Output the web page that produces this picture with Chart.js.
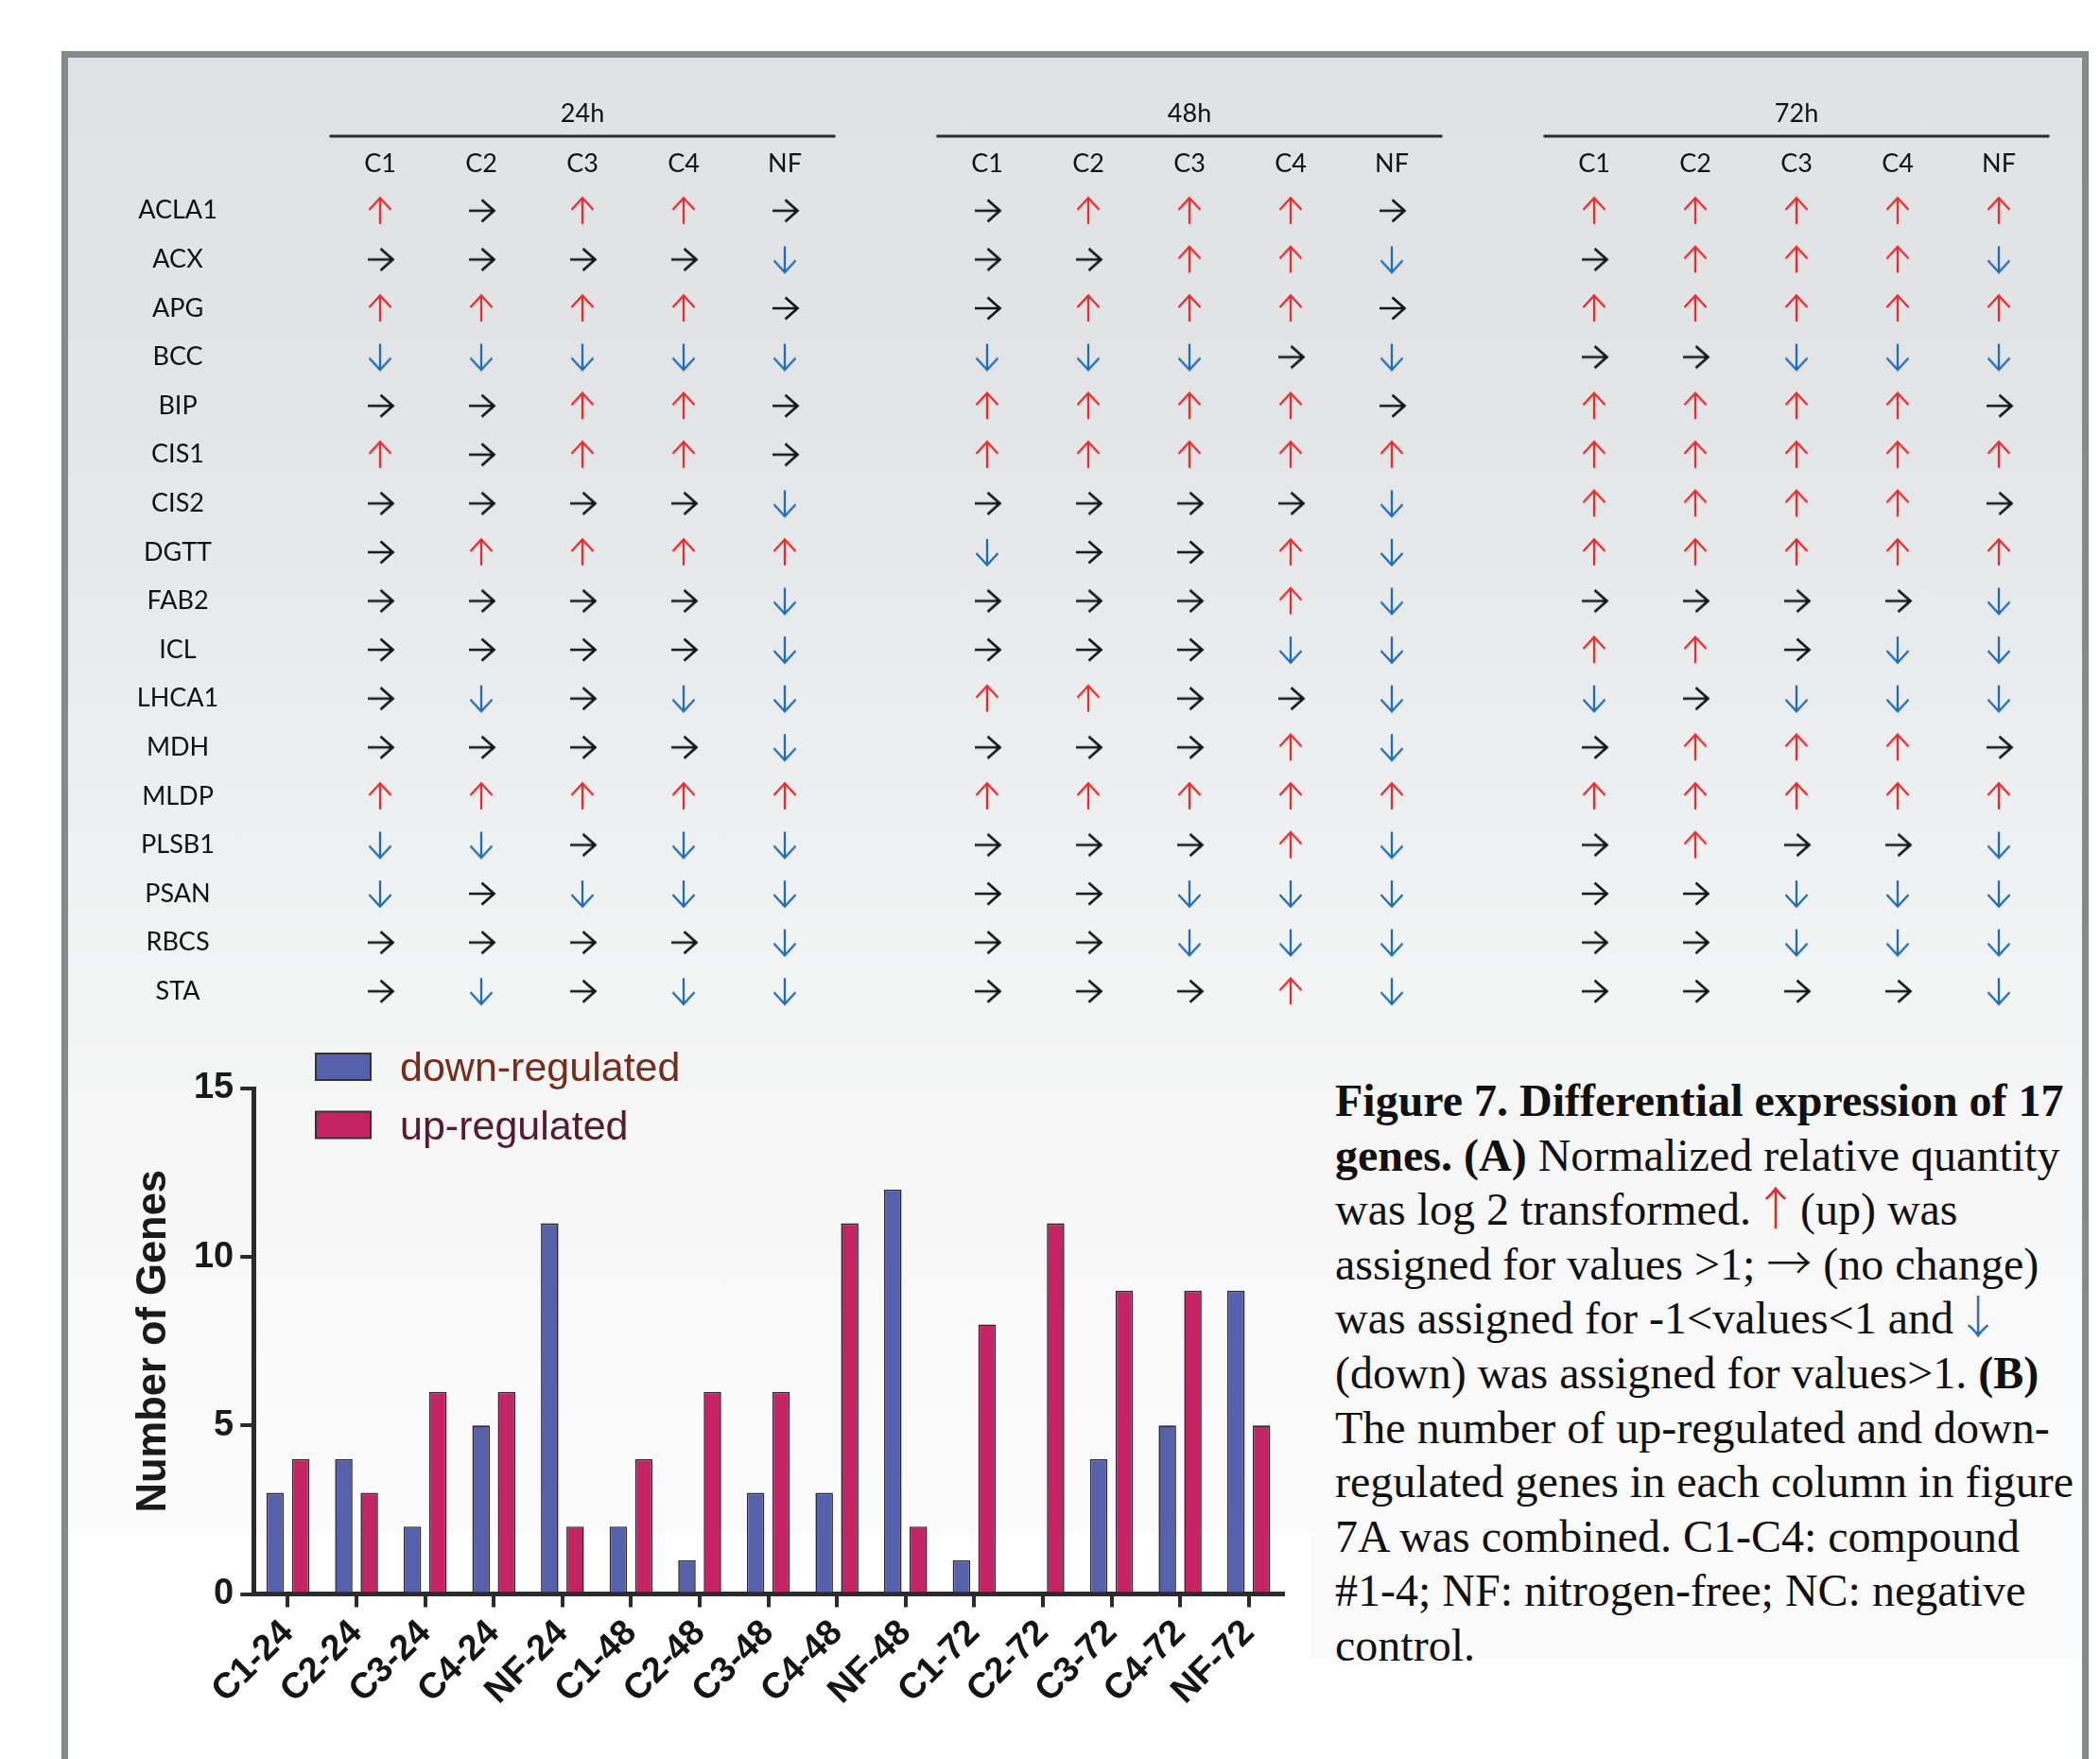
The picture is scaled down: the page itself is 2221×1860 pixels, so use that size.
<!DOCTYPE html>
<html>
<head>
<meta charset="utf-8">
<script src="https://cdn.jsdelivr.net/npm/chart.js@4/dist/chart.umd.min.js"></script>
<style>
  html, body { margin: 0; padding: 0; background: #ffffff; width: 2221px; height: 1860px; overflow: hidden; }
  #frame {
    position: absolute; left: 65px; top: 54px; width: 2144px; height: 1900px;
    box-sizing: border-box; border: 7px solid #88898d; border-bottom: none;
    background: linear-gradient(to bottom, #e1e2e4 0px, #e3e4e6 350px, #eeeff0 800px, #f3f4f4 1000px,
                #f6f6f6 1150px, #fafafa 1400px, #fbfbfb 1560px, #ffffff 1562px);
  }
  #captionBg { position: absolute; left: 1385px; top: 1622px; width: 817px; height: 131px; background: #fbfbfb; }
  #tableWrap { position: absolute; left: 0; top: 0; width: 2221px; height: 1100px; }
  #barWrap { position: absolute; left: 0; top: 1080px; width: 1400px; height: 780px; }
  #caption {
    position: absolute; left: 1412px; top: 1135px;
    font-family: "Liberation Serif", "Times New Roman", serif; font-size: 48px; line-height: 57.6px;
    color: #111111; white-space: nowrap;
  }
  #caption .sym { font-family: "Noto Sans CJK SC", "DejaVu Sans", sans-serif; font-weight: 300; line-height: 0; }
  #caption .narrow { margin: 0 -10px; }
  #caption .up { color: #e8252b; }
  #caption .down { color: #2a6fba; }
</style>
</head>
<body>
<div id="frame"></div>
<div id="captionBg"></div>
<div id="tableWrap"><canvas id="tableChart"></canvas></div>
<div id="barWrap"><canvas id="barChart"></canvas></div>
<div id="caption">
<b>Figure 7. Differential expression of 17</b><br>
<b>genes. (A)</b> Normalized relative quantity<br>
was log 2 transformed. <span class="sym narrow up">↑</span> (up) was<br>
assigned for values &gt;1; <span class="sym">→</span> (no change)<br>
was assigned for -1&lt;values&lt;1 and <span class="sym narrow down">↓</span><br>
(down) was assigned for values&gt;1. <b>(B)</b><br>
The number of up-regulated and down-<br>
regulated genes in each column in figure<br>
7A was combined. C1-C4: compound<br>
#1-4; NF: nitrogen-free; NC: negative<br>
control.
</div>

<script>
// ---- Panel A: expression calls (U = up, R = no change, D = down) ----
const genes = ['ACLA1', 'ACX', 'APG', 'BCC', 'BIP', 'CIS1', 'CIS2', 'DGTT', 'FAB2',
               'ICL', 'LHCA1', 'MDH', 'MLDP', 'PLSB1', 'PSAN', 'RBCS', 'STA'];
const conditions = ['C1', 'C2', 'C3', 'C4', 'NF'];
const timePoints = ['24h', '48h', '72h'];

// one string per gene, one letter per condition (C1 C2 C3 C4 NF)
const calls24h = ['URUUR', 'RRRRD', 'UUUUR', 'DDDDD', 'RRUUR', 'URUUR', 'RRRRD', 'RUUUU', 'RRRRD',
                  'RRRRD', 'RDRDD', 'RRRRD', 'UUUUU', 'DDRDD', 'DRDDD', 'RRRRD', 'RDRDD'];
const calls48h = ['RUUUR', 'RRUUD', 'RUUUR', 'DDDRD', 'UUUUR', 'UUUUU', 'RRRRD', 'DRRUD', 'RRRUD',
                  'RRRDD', 'UURRD', 'RRRUD', 'UUUUU', 'RRRUD', 'RRDDD', 'RRDDD', 'RRRUD'];
const calls72h = ['UUUUU', 'RUUUD', 'UUUUU', 'RRDDD', 'UUUUR', 'UUUUU', 'UUUUR', 'UUUUU', 'RRRRD',
                  'UURDD', 'DRDDD', 'RUUUR', 'UUUUU', 'RURRD', 'RRDDD', 'RRDDD', 'RRRRD'];
const callsByTime = [calls24h, calls48h, calls72h];

// ---- Panel B: number of genes per column ----
const barLabels = ['C1-24', 'C2-24', 'C3-24', 'C4-24', 'NF-24',
                   'C1-48', 'C2-48', 'C3-48', 'C4-48', 'NF-48',
                   'C1-72', 'C2-72', 'C3-72', 'C4-72', 'NF-72'];
const downCounts = [3, 4, 2, 5, 11, 2, 1, 3, 3, 12, 1, 0, 4, 5, 9];
const upCounts   = [4, 3, 6, 6, 2, 4, 6, 6, 11, 2, 8, 11, 9, 9, 5];
const yTicks = [0, 5, 10, 15];

// ---------------------------------------------------------------------
const tableFont = 'Lato, "Open Sans", sans-serif';
const sansBold = '"Liberation Sans", Arial, Helvetica, sans-serif';

// column keys for the table x axis, with an empty slot between time points
const columnKeys = [];
const columnText = [];
const groupSpans = [];
timePoints.forEach((t, ti) => {
  if (ti > 0) { columnKeys.push('gap ' + ti); columnText.push(''); }
  const first = columnKeys.length;
  conditions.forEach(c => { columnKeys.push(c + ' ' + t); columnText.push(c); });
  groupSpans.push({ label: t, first: first, last: columnKeys.length - 1 });
});

// arrow glyphs used as point styles
function arrowImage(dir, color, lw) {
  const c = document.createElement('canvas');
  c.width = 36; c.height = 36;
  const g = c.getContext('2d');
  g.translate(18, 18);
  g.strokeStyle = color; g.lineWidth = lw; g.lineCap = 'butt'; g.lineJoin = 'miter';
  g.beginPath();
  if (dir === 'up') {
    g.moveTo(0, 14); g.lineTo(0, -13.5);
    g.moveTo(-11.5, -1); g.lineTo(0, -13.5); g.lineTo(11.5, -1);
  } else if (dir === 'down') {
    g.moveTo(0, -14); g.lineTo(0, 13.5);
    g.moveTo(-11.5, 1); g.lineTo(0, 13.5); g.lineTo(11.5, 1);
  } else {
    g.moveTo(-13, 0); g.lineTo(13.5, 0);
    g.moveTo(0.5, -11.5); g.lineTo(13.5, 0); g.lineTo(0.5, 11.5);
  }
  g.stroke();
  return c;
}
const arrowUp = arrowImage('up', '#ee2b2c', 2.3);
const arrowRight = arrowImage('right', '#151515', 2.7);
const arrowDown = arrowImage('down', '#1f6db8', 2.3);

const pts = { U: [], R: [], D: [] };
genes.forEach((gene, gi) => {
  timePoints.forEach((t, ti) => {
    conditions.forEach((c, ci) => {
      const code = callsByTime[ti][gi][ci];
      pts[code].push({ x: c + ' ' + t, y: gene });
    });
  });
});

// centre the gene names in the label column
const mctx = document.createElement('canvas').getContext('2d');
mctx.font = '27px ' + tableFont;
const widestGene = Math.max(...genes.map(g => mctx.measureText(g).width));
const geneLabelCenter = 188;
const tableLeft = 348.5;

const groupHeaders = {
  id: 'groupHeaders',
  afterDraw(chart) {
    const xs = chart.scales.x;
    const ctx = chart.ctx;
    const slot = xs.getPixelForValue(1) - xs.getPixelForValue(0);
    const top = chart.chartArea.top;
    ctx.save();
    groupSpans.forEach(gs => {
      const l = xs.getPixelForValue(gs.first) - slot / 2;
      const r = xs.getPixelForValue(gs.last) + slot / 2;
      ctx.strokeStyle = '#2a2a2a';
      ctx.lineWidth = 3;
      ctx.beginPath();
      ctx.moveTo(l, top - 53); ctx.lineTo(r, top - 53);
      ctx.stroke();
      ctx.fillStyle = '#111111';
      ctx.font = '27px ' + tableFont;
      ctx.textAlign = 'center';
      ctx.textBaseline = 'middle';
      ctx.fillText(gs.label, (l + r) / 2, top - 77);
    });
    ctx.restore();
  }
};

new Chart(document.getElementById('tableChart'), {
  type: 'scatter',
  data: {
    datasets: [
      { label: 'up', data: pts.U, pointStyle: arrowUp },
      { label: 'no change', data: pts.R, pointStyle: arrowRight },
      { label: 'down', data: pts.D, pointStyle: arrowDown }
    ]
  },
  options: {
    responsive: true, maintainAspectRatio: false, animation: false, events: [], devicePixelRatio: 1,
    layout: { padding: { left: 0, right: 53.5, top: 0, bottom: 26 } },
    plugins: { legend: { display: false }, tooltip: { enabled: false } },
    scales: {
      x: {
        type: 'category', labels: columnKeys, position: 'top', offset: true,
        grid: { display: false, drawTicks: false }, border: { display: false },
        ticks: {
          autoSkip: false, maxRotation: 0, minRotation: 0, padding: 7.8,
          font: { family: tableFont, size: 27 }, color: '#111111',
          callback: (v) => columnText[v]
        },
        afterFit: (s) => { s.height = 197; s.paddingLeft = 0; s.paddingRight = 0; }
      },
      y: {
        type: 'category', labels: genes, offset: true,
        grid: { display: false, drawTicks: false }, border: { display: false },
        ticks: {
          autoSkip: false, crossAlign: 'center',
          padding: tableLeft - geneLabelCenter - widestGene / 2,
          font: { family: tableFont, size: 27 }, color: '#111111'
        },
        afterFit: (s) => { s.width = tableLeft; s.paddingTop = 0; s.paddingBottom = 0; }
      }
    }
  },
  plugins: [groupHeaders]
});

// legend drawn beside the bars
const boxLegend = {
  id: 'boxLegend',
  afterDraw(chart, args, o) {
    const ctx = chart.ctx;
    ctx.save();
    chart.data.datasets.forEach((ds, i) => {
      const y = o.top + i * o.rowGap;
      ctx.fillStyle = ds.backgroundColor;
      ctx.fillRect(o.left, y, o.boxW, o.boxH);
      ctx.strokeStyle = '#333333'; ctx.lineWidth = 2;
      ctx.strokeRect(o.left, y, o.boxW, o.boxH);
      ctx.font = '43px "Liberation Sans", Arial, sans-serif';
      ctx.fillStyle = o.textColors[i];
      ctx.textAlign = 'left'; ctx.textBaseline = 'alphabetic';
      ctx.fillText(ds.label, o.textX, y + o.boxH + 1);
    });
    ctx.restore();
  }
};

new Chart(document.getElementById('barChart'), {
  type: 'bar',
  data: {
    labels: barLabels,
    datasets: [
      { label: 'down-regulated', data: downCounts, backgroundColor: '#5761ab', borderColor: '#2a2a36',
        borderWidth: 1.6, categoryPercentage: 0.744, barPercentage: 0.685 },
      { label: 'up-regulated', data: upCounts, backgroundColor: '#c42464', borderColor: '#2a2a36',
        borderWidth: 1.6, categoryPercentage: 0.744, barPercentage: 0.685 }
    ]
  },
  options: {
    responsive: true, maintainAspectRatio: false, animation: false, events: [], devicePixelRatio: 1,
    layout: { padding: { left: 0, right: 43, top: 71, bottom: 0 } },
    plugins: {
      legend: { display: false }, tooltip: { enabled: false },
      boxLegend: { left: 334, top: 34, boxW: 58, boxH: 28, rowGap: 61.5, textX: 423,
                   textColors: ['#772d1c', '#561a31'] }
    },
    scales: {
      x: {
        offset: true,
        grid: { offset: false, drawOnChartArea: false, drawTicks: true, tickLength: 14, lineWidth: 4, color: '#2b2b2b' },
        border: { display: true, width: 5, color: '#2b2b2b' },
        ticks: {
          autoSkip: false, maxRotation: 45, minRotation: 45, padding: 5,
          font: { family: sansBold, size: 38, weight: 'bold' }, color: '#151515'
        },
        afterFit: (s) => { s.height = 174.5; }
      },
      y: {
        min: 0, max: 15,
        afterBuildTicks: (s) => { s.ticks = yTicks.map(v => ({ value: v })); },
        grid: { drawOnChartArea: false, drawTicks: true, tickLength: 14, lineWidth: 4, color: '#2b2b2b' },
        border: { display: true, width: 5, color: '#2b2b2b' },
        ticks: { padding: 7, font: { family: sansBold, size: 38, weight: 'bold' }, color: '#1a1a1a' },
        title: {
          display: true, text: 'Number of Genes', color: '#1a1a1a',
          font: { family: sansBold, size: 43.5, weight: 'bold' },
          padding: { top: 137, bottom: 0 }
        },
        afterFit: (s) => { s.width = 268.2; }
      }
    }
  },
  plugins: [boxLegend]
});
</script>
</body>
</html>
